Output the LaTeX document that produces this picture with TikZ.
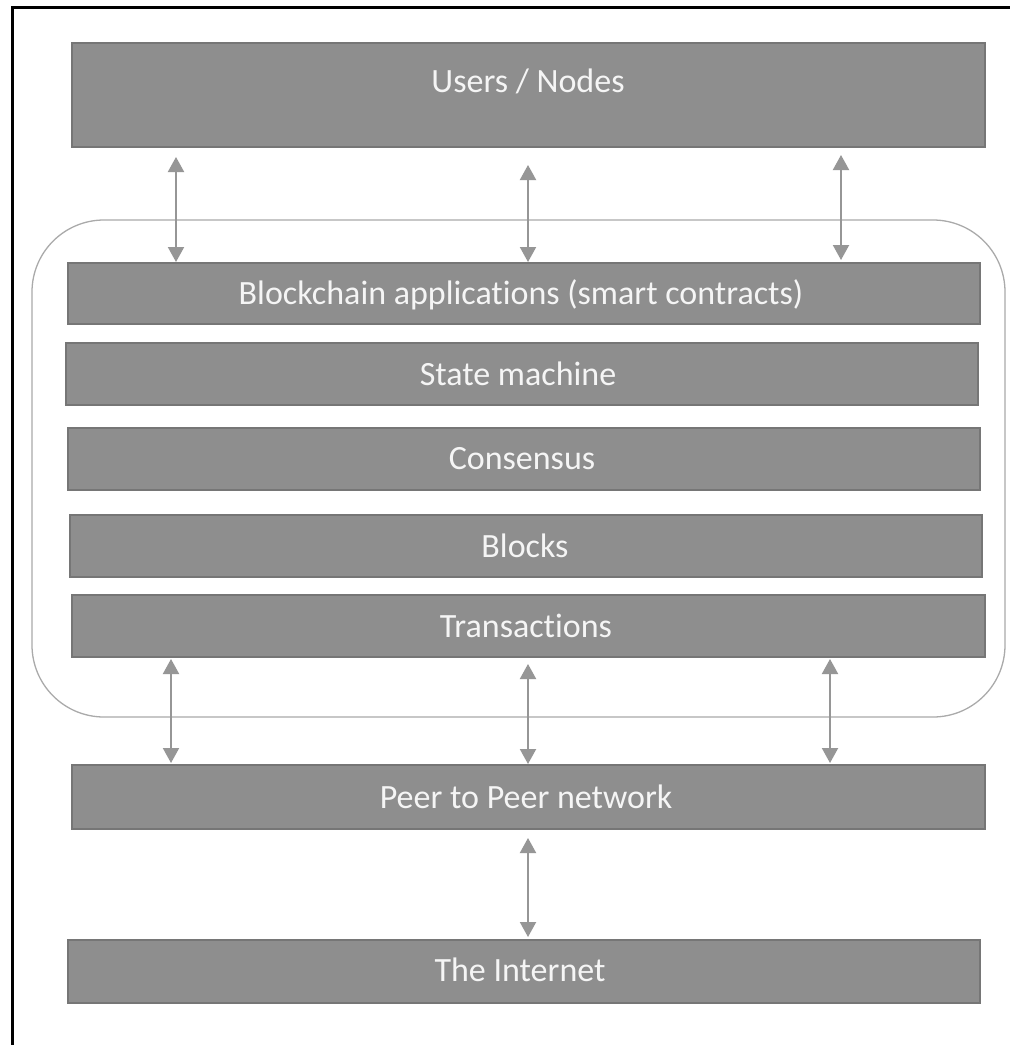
\documentclass[tikz,border=0pt]{standalone}
\usepackage{fontspec}
\setmainfont{Carlito}[Ligatures=CommonOff]
\usetikzlibrary{arrows.meta}
\definecolor{boxfill}{RGB}{142,142,142}
\definecolor{boxedge}{RGB}{118,118,118}
\definecolor{arrowgray}{RGB}{150,150,150}
\definecolor{roundgray}{RGB}{170,170,170}
\begin{document}
\begin{tikzpicture}[x=1pt,y=-1pt,
  layer/.style={draw=boxedge,fill=boxfill,line width=1.5pt},
  ltext/.style={text=white!96!black,font=\fontsize{34}{40}\selectfont,inner sep=0pt},
  biarrow/.style={draw=arrowgray,line width=2pt,{Triangle[width=16pt,length=15pt]}-{Triangle[width=16pt,length=15pt]}}]
\useasboundingbox (0,0) rectangle (1010,1045);
\fill[white] (0,0) rectangle (1010,1045);
\draw[line width=3pt] (12,1060) -- (12,7) -- (1020,7);
\draw[roundgray,line width=1.3pt,rounded corners=72pt] (32,220) rectangle (1005,717);
% boxes
\path[layer] (72,43) rectangle (985,147);
\node[ltext] (users) at (528,81) {Users / Nodes};
\path[layer] (68,263) rectangle (980,324);
\node[ltext] (apps) at (521,295) {Blockchain applications (smart contracts)};
\path[layer] (66,343) rectangle (978,405);
\node[ltext] (state) at (518,374) {State machine};
\path[layer] (68,428) rectangle (980,490);
\node[ltext] (cons) at (522,459) {Consensus};
\path[layer] (70,515) rectangle (982,577);
\node[ltext] (blocks) at (525,546) {Blocks};
\path[layer] (72,595) rectangle (985,657);
\node[ltext] (tx) at (526,626) {Transactions};
\path[layer] (72,765) rectangle (985,829);
\node[ltext] (p2p) at (526,797) {Peer to Peer network};
\path[layer] (68,940) rectangle (980,1003);
\node[ltext] (net) at (520,970) {The Internet};
% arrow endpoints
\coordinate (a1) at (176,157); \coordinate (b1) at (176,262);
\coordinate (a2) at (528,165); \coordinate (b2) at (528,262);
\coordinate (a3) at (841,155); \coordinate (b3) at (841,260);
\coordinate (c1) at (171,659); \coordinate (d1) at (171,763);
\coordinate (c2) at (528,664); \coordinate (d2) at (528,764);
\coordinate (c3) at (830,659); \coordinate (d3) at (830,763);
\coordinate (e1) at (528,838); \coordinate (f1) at (528,937);
\draw[biarrow] (a1) -- (b1);
\draw[biarrow] (a2) -- (b2);
\draw[biarrow] (a3) -- (b3);
\draw[biarrow] (c1) -- (d1);
\draw[biarrow] (c2) -- (d2);
\draw[biarrow] (c3) -- (d3);
\draw[biarrow] (e1) -- (f1);
\end{tikzpicture}
\end{document}
